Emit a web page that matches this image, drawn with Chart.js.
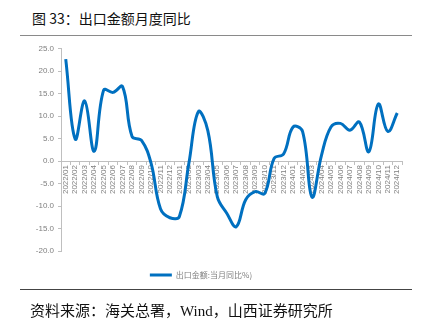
<!DOCTYPE html>
<html>
<head>
<meta charset="utf-8">
<script src="https://cdn.jsdelivr.net/npm/chart.js@4.4.1/dist/chart.umd.min.js"></script>
<style>
    body { margin: 0; width: 423px; height: 333px; background: #fff; position: relative; overflow: hidden; }
    .title { position: absolute; left: 32px; top: 8px; font: 14px "Noto Sans CJK SC", sans-serif; color: #111; }
    .rule-top { position: absolute; left: 20px; top: 35px; width: 392px; height: 0; border-top: 1.5px solid #8a8a8a; }
    .rule-bottom { position: absolute; left: 20px; top: 289px; width: 392px; height: 0; border-top: 1px solid #444; }
    .source { position: absolute; left: 30px; top: 299px; font: 15px "Liberation Serif", "Noto Sans CJK SC", serif; color: #111; }
    .wrap { position: absolute; left: 0; top: 40px; width: 423px; height: 251px; }
</style>
</head>
<body>
<div class="title">图 33：出口金额月度同比</div>
<div class="rule-top"></div>
<div class="wrap"><canvas id="chartExport"></canvas></div>
<div class="rule-bottom"></div>
<div class="source">资料来源：海关总署，Wind，山西证券研究所</div>
<script>
// months shown on the x axis
const months = [
    "2022/01", "2022/02", "2022/03", "2022/04", "2022/05", "2022/06",
    "2022/07", "2022/08", "2022/09", "2022/10", "2022/11", "2022/12",
    "2023/01", "2023/02", "2023/03", "2023/04", "2023/05", "2023/06",
    "2023/07", "2023/08", "2023/09", "2023/10", "2023/11", "2023/12",
    "2024/01", "2024/02", "2024/03", "2024/04", "2024/05", "2024/06",
    "2024/07", "2024/08", "2024/09", "2024/10", "2024/11", "2024/12",
];

// export value, YoY %
const exportYoY = [
    22.7, 4.9, 13.4, 2.2, 15.8, 15.3, 16.6, 5.5, 4.6, -0.4, -10.6, -12.6,
    -12.3, -0.5, 11.0, 6.8, -7.9, -11.6, -14.6, -8.6, -6.8, -7.2, 0.6, 1.6,
    7.6, 6.6, -8.0, 1.3, 7.6, 8.4, 6.9, 8.7, 2.1, 12.7, 6.6, 10.7,
];

const seriesName = "出口金额:当月同比%)";

const yMin = -20;
const yMax = 25;
const yStep = 5;

const axisGrey = "#bfbfbf";
const labelGrey = "#7f7f7f";

const ctx = document.getElementById("chartExport").getContext("2d");

new Chart(ctx, {
    type: "line",
    data: {
        labels: months,
        datasets: [
            {
                label: seriesName,
                data: exportYoY,
                borderColor: "#0070c0",
                backgroundColor: "#0070c0",
                borderWidth: 3,
                tension: 0.4,
                pointRadius: 0,
                fill: false,
            },
        ],
    },
    options: {
        responsive: true,
        maintainAspectRatio: false,
        animation: false,
        layout: {
            padding: { top: 5, right: 21, bottom: 2, left: 0 },
        },
        plugins: {
            tooltip: { enabled: false },
            legend: {
                position: "bottom",
                labels: {
                    usePointStyle: true,
                    pointStyle: "line",
                    pointStyleWidth: 22,
                    boxHeight: 3,
                    color: labelGrey,
                    font: { size: 8, family: "'Noto Sans CJK SC', sans-serif" },
                    padding: 20,
                },
            },
        },
        scales: {
            x: {
                position: { y: 0 },
                offset: true,
                grid: {
                    display: true,
                    offset: true,
                    drawOnChartArea: false,
                    drawTicks: true,
                    tickLength: 3,
                    color: axisGrey,
                },
                border: { color: axisGrey, width: 1 },
                ticks: {
                    autoSkip: false,
                    minRotation: 90,
                    maxRotation: 90,
                    padding: 1,
                    color: labelGrey,
                    font: { size: 8, family: "'Liberation Sans', sans-serif" },
                },
            },
            y: {
                min: yMin,
                max: yMax,
                afterFit: function (scale) {
                    scale.width = 61;
                },
                grid: {
                    display: true,
                    drawOnChartArea: false,
                    drawTicks: true,
                    tickLength: 3,
                    color: axisGrey,
                },
                border: { color: axisGrey, width: 1 },
                ticks: {
                    stepSize: yStep,
                    padding: 4,
                    color: labelGrey,
                    font: { size: 8, family: "'Liberation Sans', sans-serif" },
                    callback: function (value) {
                        return value.toFixed(1);
                    },
                },
            },
        },
    },
});
</script>
</body>
</html>
